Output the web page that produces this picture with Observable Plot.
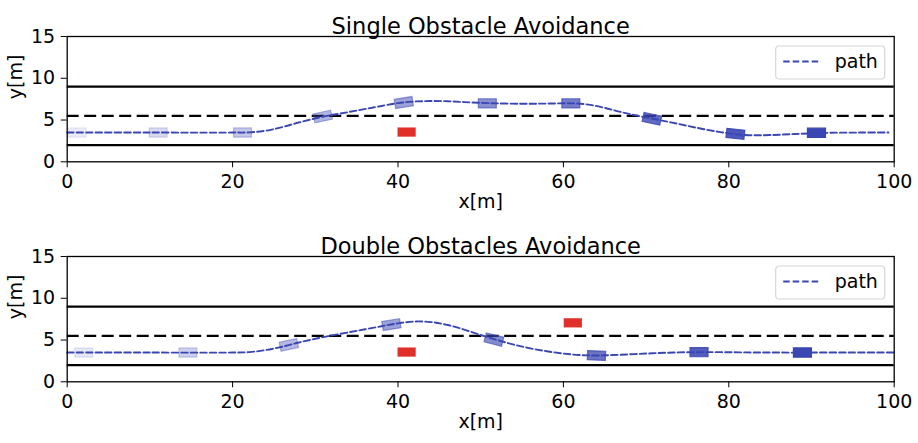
<!DOCTYPE html>
<html>
<head>
<meta charset="utf-8">
<script src="https://cdn.jsdelivr.net/npm/d3@7"></script>
<script src="https://cdn.jsdelivr.net/npm/@observablehq/plot@0.6"></script>
<style>
  html, body { margin: 0; padding: 0; background: #fff; }
  #chart { width: 918px; height: 443px; }
  svg { display: block; }
</style>
</head>
<body>
<div id="chart"></div>
<script>
// ---- data ----
const ticksX = [0, 20, 40, 60, 80, 100];
const ticksY = [0, 5, 10, 15];
const laneSolid = [2, 9];
const laneDashed = [5.5];

const titleSingle = "Single Obstacle Avoidance";
const titleDouble = "Double Obstacles Avoidance";

const pathSingleX = [0, 10, 20, 22, 24, 26, 28, 31, 34, 37, 40, 42, 44, 46, 48, 51, 55, 58, 61, 63, 65, 67, 69, 71, 73, 75, 77, 79, 81, 83, 85, 88, 92, 96, 99.3];
const pathSingleY = [3.5, 3.5, 3.5, 3.52, 3.72, 4.15, 4.7, 5.42, 5.95, 6.5, 7.02, 7.22, 7.27, 7.25, 7.15, 7.02, 6.95, 6.97, 7.0, 6.85, 6.45, 5.95, 5.5, 5.12, 4.72, 4.3, 3.9, 3.55, 3.28, 3.18, 3.2, 3.33, 3.47, 3.5, 3.5];
const carSingleX = [1.2, 11.0, 21.2, 30.9, 40.7, 50.8, 60.9, 70.7, 80.8, 90.6];
const carSingleY = [3.5, 3.5, 3.5, 5.42, 7.1, 7.0, 7.0, 5.15, 3.35, 3.47];
const carSingleHeading = [0, 0, 0, 12, 9, 0, 0, -12, -6, 0];
const carSingleAlpha = [0.1, 0.2, 0.3, 0.4, 0.5, 0.6, 0.7, 0.8, 0.9, 1.0];
const obsSingleX = [41.1];
const obsSingleY = [3.5];

const pathDoubleX = [0, 10, 20, 22, 24, 26, 28, 30, 32, 35, 38, 40, 42, 44, 46, 48, 50, 52, 54, 56, 58, 60, 62, 64, 66, 70, 74, 78, 82, 86, 90, 95, 100];
const pathDoubleY = [3.5, 3.5, 3.5, 3.55, 3.8, 4.2, 4.7, 5.15, 5.55, 6.1, 6.65, 7.0, 7.22, 7.15, 6.8, 6.25, 5.6, 5.0, 4.45, 4.0, 3.65, 3.38, 3.2, 3.15, 3.2, 3.38, 3.52, 3.55, 3.52, 3.5, 3.5, 3.5, 3.5];
const carDoubleX = [2.0, 14.6, 26.8, 39.2, 51.6, 64.0, 76.4, 88.9];
const carDoubleY = [3.5, 3.5, 4.43, 6.85, 5.06, 3.15, 3.55, 3.5];
const carDoubleHeading = [0, 0, 12, 9, -14, -2, 0, 0];
const carDoubleAlpha = [0.125, 0.25, 0.375, 0.5, 0.625, 0.75, 0.875, 1.0];
const obsDoubleX = [41.1, 61.2];
const obsDoubleY = [3.5, 7.0];

const obsLength = 2.2;
const obsWidth = 1.1;

// ---- styles ----
const BLUE = "#3a46b2";
const RED = "#e0302a";
const FONT = "DejaVu Sans, sans-serif";
const carSymbol = { draw(ctx) { ctx.rect(-9, -4.6, 18, 9.2); } };

function panel(title, px, py, cx, cy, ch, ca, ox, oy) {
  const path = px.map((x, i) => ({ x, y: py[i] }));
  const cars = cx.map((x, i) => ({ x, y: cy[i], h: ch[i], a: ca[i] }));
  const obs = ox.map((x, i) => ({ x, y: oy[i] }));
  const W = 918, H = 220;
  const mL = 66.7, mR = 24.3, mT = 36, mB = 58.7;
  const svg = Plot.plot({
    width: W, height: H,
    marginLeft: mL, marginRight: mR, marginTop: mT, marginBottom: mB,
    style: { fontFamily: FONT, fontSize: "19px", color: "black", background: "white" },
    x: { domain: [0, 100] },
    y: { domain: [0, 15] },
    marks: [
      Plot.ruleY(laneSolid, { stroke: "black", strokeWidth: 2.4 }),
      Plot.ruleY(laneDashed, { stroke: "black", strokeWidth: 2.4, strokeDasharray: "12,5.5" }),
      Plot.line(path, { x: "x", y: "y", stroke: BLUE, strokeWidth: 1.9, strokeDasharray: "6.5,3", curve: "catmull-rom" }),
      Plot.rect(obs, { x1: d => d.x - obsLength / 2, x2: d => d.x + obsLength / 2, y1: d => d.y - obsWidth / 2, y2: d => d.y + obsWidth / 2, fill: RED }),
      Plot.dot(cars, { x: "x", y: "y", symbol: carSymbol, rotate: d => -d.h, fill: BLUE, fillOpacity: d => d.a, stroke: BLUE, strokeOpacity: d => d.a, strokeWidth: 1.2 }),
      Plot.frame({ stroke: "black", strokeWidth: 1.3 }),
      Plot.axisX({ ticks: ticksX, tickSize: 6, tickPadding: 7, tickFormat: d => String(d), label: null, fontSize: 19 }),
      Plot.axisY({ ticks: ticksY, tickSize: 6, tickPadding: 6, tickFormat: d => String(d), label: null, fontSize: 19 }),
      Plot.text([title], { frameAnchor: "top", dy: -18, fontSize: 22.5, fill: "black" }),
      Plot.text(["x[m]"], { frameAnchor: "bottom", dy: 46, fontSize: 19, fill: "black" }),
      Plot.text(["y[m]"], { frameAnchor: "left", dx: -51, rotate: -90, fontSize: 19, fill: "black" })
    ]
  });
  // legend box (upper right, inside frame)
  const g = d3.select(svg).append("g").attr("text-anchor", "start");
  const right = W - mR - 9, top = mT + 10, lw = 109, lh = 33;
  g.append("rect").attr("x", right - lw).attr("y", top).attr("width", lw).attr("height", lh)
    .attr("rx", 3.5).attr("fill", "white").attr("fill-opacity", 0.85).attr("stroke", "#d6d6d6").attr("stroke-width", 1.2);
  g.append("line").attr("x1", right - lw + 7.5).attr("x2", right - lw + 44).attr("y1", top + 15.5).attr("y2", top + 15.5)
    .attr("stroke", BLUE).attr("stroke-width", 1.9).attr("stroke-dasharray", "6.5,3");
  g.append("text").attr("x", right - lw + 59).attr("y", top + 15.5).attr("dy", "0.35em")
    .attr("text-anchor", "start")
    .attr("font-family", FONT).attr("font-size", 19).attr("fill", "black").text("path");
  return svg;
}

const root = document.getElementById("chart");
root.appendChild(panel(titleSingle, pathSingleX, pathSingleY, carSingleX, carSingleY, carSingleHeading, carSingleAlpha, obsSingleX, obsSingleY));
root.appendChild(panel(titleDouble, pathDoubleX, pathDoubleY, carDoubleX, carDoubleY, carDoubleHeading, carDoubleAlpha, obsDoubleX, obsDoubleY));
</script>
</body>
</html>
